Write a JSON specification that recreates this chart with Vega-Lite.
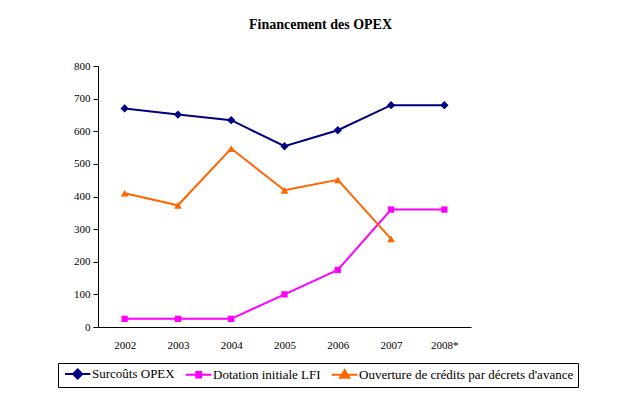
{
  "$schema": "https://vega.github.io/schema/vega-lite/v6.json",
  "autosize": {"type": "none"},
  "width": 373,
  "height": 261,
  "padding": {"left": 98, "top": 66, "right": 169, "bottom": 73},
  "background": "white",
  "title": {
    "text": "Financement des OPEX",
    "font": "Liberation Serif",
    "fontSize": 14,
    "fontWeight": "bold",
    "color": "black",
    "anchor": "middle",
    "frame": "group",
    "dx": 36,
    "offset": 28
  },
  "config": {
    "view": {"stroke": null},
    "font": "Liberation Serif"
  },
  "data": {
    "values": [
      {"annee": "2002", "serie": "Surcoûts OPEX", "valeur": 670},
      {"annee": "2003", "serie": "Surcoûts OPEX", "valeur": 651},
      {"annee": "2004", "serie": "Surcoûts OPEX", "valeur": 634},
      {"annee": "2005", "serie": "Surcoûts OPEX", "valeur": 554},
      {"annee": "2006", "serie": "Surcoûts OPEX", "valeur": 603},
      {"annee": "2007", "serie": "Surcoûts OPEX", "valeur": 680},
      {"annee": "2008*", "serie": "Surcoûts OPEX", "valeur": 680},
      {"annee": "2002", "serie": "Dotation initiale LFI", "valeur": 25},
      {"annee": "2003", "serie": "Dotation initiale LFI", "valeur": 25},
      {"annee": "2004", "serie": "Dotation initiale LFI", "valeur": 25},
      {"annee": "2005", "serie": "Dotation initiale LFI", "valeur": 100},
      {"annee": "2006", "serie": "Dotation initiale LFI", "valeur": 175},
      {"annee": "2007", "serie": "Dotation initiale LFI", "valeur": 360},
      {"annee": "2008*", "serie": "Dotation initiale LFI", "valeur": 360},
      {"annee": "2002", "serie": "Ouverture de crédits par décrets d'avance", "valeur": 410},
      {"annee": "2003", "serie": "Ouverture de crédits par décrets d'avance", "valeur": 373},
      {"annee": "2004", "serie": "Ouverture de crédits par décrets d'avance", "valeur": 547},
      {"annee": "2005", "serie": "Ouverture de crédits par décrets d'avance", "valeur": 419},
      {"annee": "2006", "serie": "Ouverture de crédits par décrets d'avance", "valeur": 451},
      {"annee": "2007", "serie": "Ouverture de crédits par décrets d'avance", "valeur": 270}
    ]
  },
  "encoding": {
    "x": {
      "field": "annee",
      "type": "ordinal",
      "sort": ["2002", "2003", "2004", "2005", "2006", "2007", "2008*"],
      "scale": {"type": "point", "padding": 0.5},
      "axis": {
        "title": null,
        "labelAngle": 0,
        "labelFont": "Liberation Serif",
        "labelFontSize": 11,
        "labelColor": "black",
        "labelPadding": 12,
        "ticks": false,
        "domainColor": "black",
        "domainWidth": 1
      }
    },
    "y": {
      "field": "valeur",
      "type": "quantitative",
      "scale": {"domain": [0, 800], "nice": false, "zero": true},
      "axis": {
        "title": null,
        "values": [0, 100, 200, 300, 400, 500, 600, 700, 800],
        "grid": false,
        "labelFont": "Liberation Serif",
        "labelFontSize": 11,
        "labelColor": "black",
        "tickColor": "black",
        "tickSize": 5,
        "labelPadding": 3,
        "domainColor": "black",
        "domainWidth": 1
      }
    },
    "color": {
      "field": "serie",
      "type": "nominal",
      "scale": {
        "domain": ["Surcoûts OPEX", "Dotation initiale LFI", "Ouverture de crédits par décrets d'avance"],
        "range": ["#000080", "#FF00FF", "#FF6600"]
      },
      "legend": {
        "title": null,
        "orient": "none",
        "direction": "horizontal",
        "legendX": -40,
        "legendY": 297,
        "labelFont": "Liberation Serif",
        "labelFontSize": 13,
        "labelColor": "black",
        "strokeColor": "black",
        "padding": 4,
        "symbolSize": 50,
        "columnPadding": 6,
        "labelOffset": 17,
        "labelLimit": 400,
        "encode": {
          "symbols": {
            "update": {
              "shape": {"signal": "datum.value === 'Surcoûts OPEX' ? 'M-1,0L6.2,0M2.6,-1.3L3.9,0L2.6,1.3L1.3,0Z' : datum.value === 'Dotation initiale LFI' ? 'M-1,0L6.2,0M1.9,-0.8L3.3,-0.8L3.3,0.8L1.9,0.8Z' : 'M-1,0L6.2,0M2.6,-1.3L3.9,0.85L1.3,0.85Z'"},
              "stroke": {"signal": "scale('color', datum.value)"},
              "fill": {"signal": "scale('color', datum.value)"},
              "strokeWidth": {"value": 2},
              "opacity": {"value": 1}
            }
          }
        }
      }
    }
  },
  "layer": [
    {
      "mark": {"type": "line", "strokeWidth": 2}
    },
    {
      "transform": [{"filter": "datum.serie === 'Surcoûts OPEX'"}],
      "mark": {"type": "point", "filled": true, "opacity": 1, "shape": "diamond", "size": 70}
    },
    {
      "transform": [{"filter": "datum.serie === 'Dotation initiale LFI'"}],
      "mark": {"type": "point", "filled": true, "opacity": 1, "shape": "square", "size": 40}
    },
    {
      "transform": [{"filter": "datum.serie === \"Ouverture de crédits par décrets d'avance\""}],
      "mark": {"type": "point", "filled": true, "opacity": 1, "shape": "triangle-up", "size": 60}
    }
  ]
}
